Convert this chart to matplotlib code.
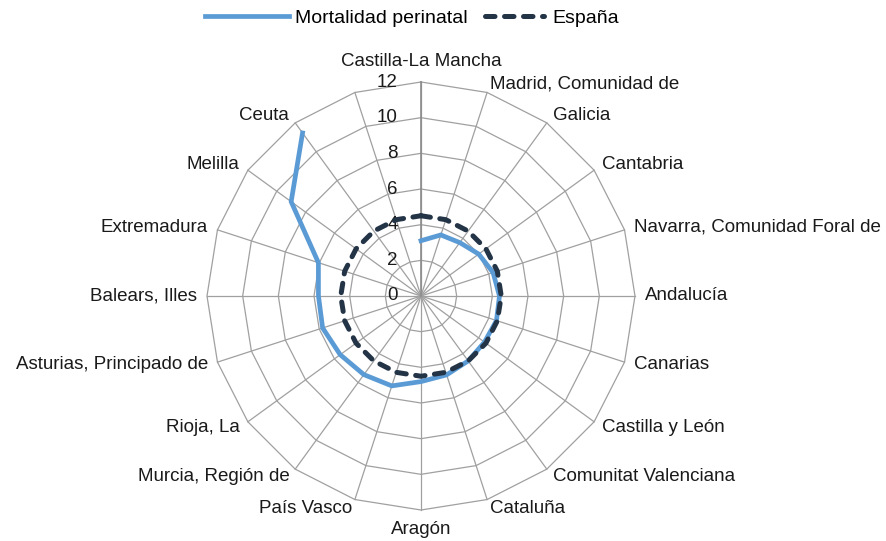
import numpy as np
import matplotlib.pyplot as plt

plt.rcParams['font.family'] = ['Liberation Sans', 'DejaVu Sans']

# categories clockwise from the top (the last spoke has no label and no value)
regiones = ["Castilla-La Mancha", "Madrid, Comunidad de", "Galicia", "Cantabria",
            "Navarra, Comunidad Foral de", "Andalucía", "Canarias", "Castilla y León",
            "Comunitat Valenciana", "Cataluña", "Aragón", "País Vasco",
            "Murcia, Región de", "Rioja, La", "Asturias, Principado de", "Balears, Illes",
            "Extremadura", "Melilla", "Ceuta", ""]
mortalidad = [3.1, 3.6, 3.7, 4.0, 4.25, 4.4, 4.45, 4.4, 4.5, 4.65,
              4.8, 5.3, 5.45, 5.6, 5.8, 5.75, 6.05, 9.0, 11.3, np.nan]
espana = [4.5, 4.5, 4.5, 4.5, 4.5, 4.5, 4.5, 4.5, 4.5, 4.5,
          4.5, 4.5, 4.5, 4.5, 4.5, 4.5, 4.5, 4.5, 4.5, 4.5]
r_ticks = [0, 2, 4, 6, 8, 10, 12]

n = len(regiones)
angles = np.deg2rad(np.arange(n) * 360.0 / n)
fs = 13.5

fig = plt.figure(figsize=(8.87, 5.41), dpi=100)
ax = fig.add_axes([207 / 887, 31 / 541, 428 / 887, 428 / 541], projection='polar')
ax.set_theta_zero_location('N')
ax.set_theta_direction(-1)
ax.set_ylim(0, 12)
ax.grid(False)
ax.set_xticks([])
ax.set_yticks([])
ax.spines['polar'].set_visible(False)
ax.patch.set_visible(False)

grid_col = '#a0a0a0'
# polygon rings
for r in r_ticks[1:]:
    ax.plot(np.append(angles, angles[0]), [r] * (n + 1), color=grid_col, lw=0.9,
            zorder=1, clip_on=False)
# spokes
for a in angles:
    ax.plot([a, a], [0, 12], color=grid_col, lw=0.9, zorder=1, clip_on=False)
ax.plot([0, 0], [0, 12], color='#8c8c8c', lw=1.2, zorder=1, clip_on=False)

# radial tick labels
for r in r_ticks:
    ax.annotate(str(r), xy=(0, r), xytext=(-23, 0), textcoords='offset pixels',
                ha='right', va='center', fontsize=fs, color='#1a1a1a')

# category labels
for a, lab in zip(angles, regiones):
    s, c = np.sin(a), np.cos(a)
    if abs(s) < 0.01:
        off = (0, 21 if c > 0 else -20)
        ha = 'center'
    else:
        off = (10 * s, 9 * c)
        ha = 'left' if s > 0 else 'right'
    ax.annotate(lab, xy=(a, 12), xytext=off, textcoords='offset pixels',
                ha=ha, va='center', fontsize=fs, color='#1a1a1a')

l1, = ax.plot(angles, mortalidad, color='#5b9bd5', lw=3.4, zorder=3,
              solid_joinstyle='miter', label='Mortalidad perinatal', clip_on=False)
l2, = ax.plot(np.append(angles, angles[0]), np.append(espana, espana[0]),
              color='#243447', lw=3.6, linestyle=(0, (1.9, 1.9)),
              dash_capstyle='round', zorder=4, label='España', clip_on=False)

leg1 = fig.legend(handles=[l1], loc='center left', bbox_to_anchor=(0.231, 0.966),
                  frameon=False, fontsize=14, handlelength=4.3, handletextpad=0.35,
                  borderaxespad=0, borderpad=0)
leg2 = fig.legend(handles=[l2], loc='center left', bbox_to_anchor=(0.547, 0.966),
                  frameon=False, fontsize=14, handlelength=3.0, handletextpad=0.45,
                  borderaxespad=0, borderpad=0)

fig.savefig('out.png', dpi=100)
